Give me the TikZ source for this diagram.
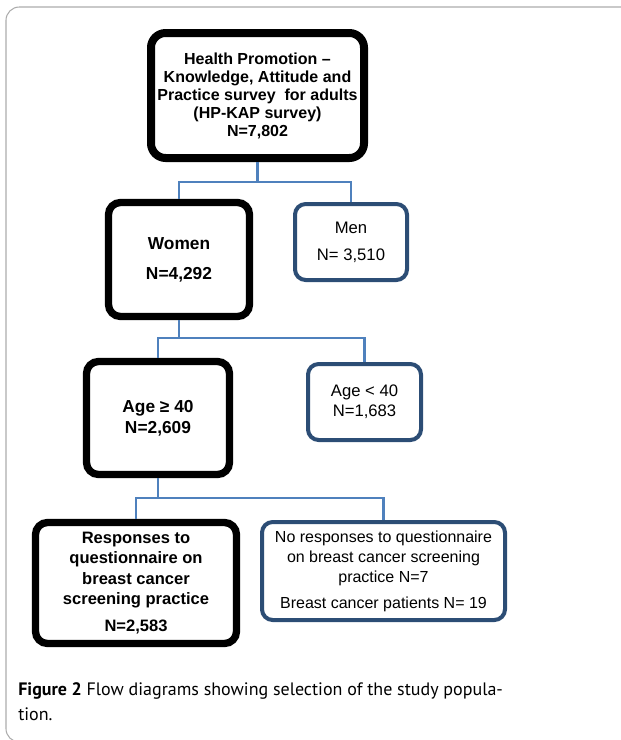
\documentclass[tikz,border=0pt]{standalone}
\usepackage{fontspec}
\setmainfont{Liberation Sans}
\newfontfamily\capfont{PT Sans}
\definecolor{linkblue}{RGB}{79,129,189}
\definecolor{boxblue}{RGB}{44,77,117}

\begin{document}
\begin{tikzpicture}
        [x=0.75pt,y=-0.75pt,
        thickbox/.style={draw=black,line width=5.5pt,rounded corners=9pt,fill=white,align=center,inner sep=0pt},
        bluebox/.style={draw=boxblue,line width=3pt,rounded corners=8pt,fill=white,align=center,inner sep=0pt},
        link/.style={draw=linkblue,line width=2.2pt}]

        \useasboundingbox (0,0) rectangle (621,740);
        \draw[gray!65,line width=0.8pt,rounded corners=10pt] (6,7) rectangle (640,742);

        \node[thickbox,line width=6pt,rounded corners=11pt,minimum width=159.75pt,minimum height=93.75pt,font=\bfseries\fontsize{12}{13.5}\selectfont] (hp) at (257.5,95.5) {Health Promotion –\\Knowledge, Attitude and\\Practice survey\ \ for adults\\(HP-KAP survey)\\N=7,802};
        \node[thickbox,minimum width=105.75pt,minimum height=85.5pt,font=\bfseries\fontsize{13}{15}\selectfont] (women) at (179,259.5) {Women\\[7.5pt]N=4,292};
        \node[bluebox,minimum width=84pt,minimum height=57pt,font=\fontsize{12.5}{15}\selectfont] (men) at (351,242) {Men\\[5pt]N= 3,510};
        \node[thickbox,minimum width=107.25pt,minimum height=84.75pt,font=\bfseries\fontsize{13}{16}\selectfont] (old) at (158,418) {Age ≥ 40\\N=2,609};
        \node[bluebox,minimum width=84.75pt,minimum height=57pt,font=\fontsize{12.5}{15}\selectfont] (young) at (364.5,402) {Age < 40\\N=1,683};
        \node[thickbox,minimum width=150.75pt,minimum height=90.75pt,font=\bfseries\fontsize{12.4}{15.4}\selectfont] (resp) at (136,583) {Responses to\\questionnaire on\\breast cancer\\screening practice\\[5pt]N=2,583};
        \node[bluebox,minimum width=182.25pt,minimum height=73.5pt,font=\fontsize{12}{15}\selectfont] (noresp) at (383.5,571) {No responses to questionnaire\\on breast cancer screening\\practice N=7\\[4.5pt]Breast cancer patients N= 19};

        \coordinate (j1) at (257.5,182);
        \coordinate (j2) at (179,338);
        \coordinate (j3) at (158,498);

        \draw[link] (hp) -- (j1) -| (women);
        \draw[link] (j1) -| (men);
        \draw[link] (women) -- (j2) -| (old);
        \draw[link] (j2) -| (young);
        \draw[link] (old) -- (j3) -| (resp);
        \draw[link] (j3) -| (noresp);

        \node[anchor=base west,align=left,inner sep=0pt,font=\capfont\fontsize{13.5}{18.75}\selectfont] (caption) at (18,720) {\textbf{Figure 2} Flow diagrams showing selection of the study popula-\\tion.};

      \end{tikzpicture}
\end{document}
